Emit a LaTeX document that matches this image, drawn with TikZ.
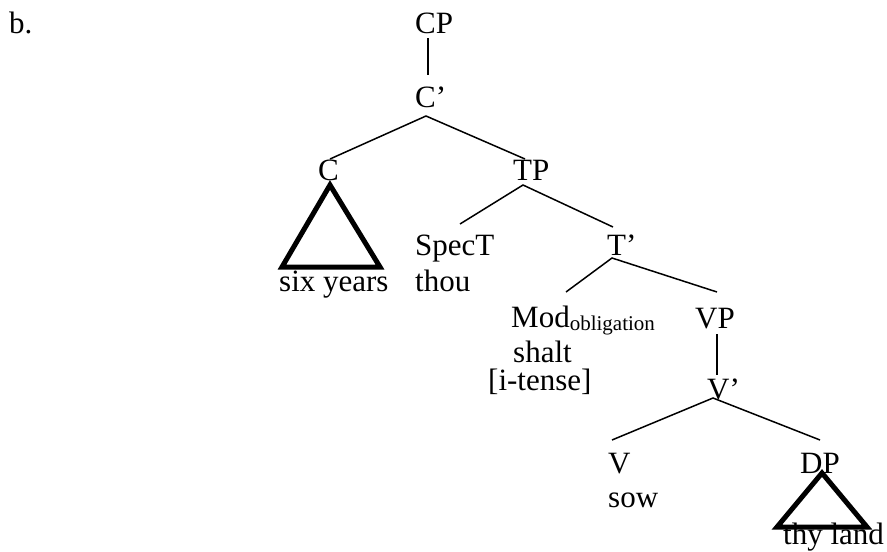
\documentclass[tikz,border=0pt]{standalone}
\usepackage{fontspec}
\setmainfont{Liberation Serif}
\begin{document}
\begin{tikzpicture}[x=1pt,y=-1pt,
  lbl/.style={anchor=base west,inner sep=0pt,font=\fontsize{31}{37}\selectfont},
  branch/.style={line width=1.5pt},
  tri/.style={line width=5pt,line join=miter}]
\useasboundingbox (0,0) rectangle (887,552);
% labels
\node[lbl] (b) at (9,33) {b.};
\node[lbl] (cp) at (415,33) {CP};
\node[lbl] (cbar) at (415,107) {C’};
\node[lbl] (c) at (318,180) {C};
\node[lbl] (tp) at (513,180) {TP};
\node[lbl] (spect) at (415,255) {SpecT};
\node[lbl] (tbar) at (607,255) {T’};
\node[lbl] (sixyears) at (279,291) {six years};
\node[lbl] (thou) at (415,291) {thou};
\node[lbl] (mod) at (511,327) {Mod\raisebox{-3pt}{\fontsize{21}{25}\selectfont obligation}};
\node[lbl] (vp) at (695,328) {VP};
\node[lbl] (shalt) at (513,362) {shalt};
\node[lbl] (itense) at (488,390) {[i-tense]};
\node[lbl] (vbar) at (707,399) {V’};
\node[lbl] (v) at (608,473) {V};
\node[lbl] (dp) at (800,473) {DP};
\node[lbl] (sow) at (608,507) {sow};
\node[lbl] (thyland) at (783,544) {thy land};
% branch points
\coordinate (cp-d) at (428,38);
\coordinate (cbar-u) at (428,75);
\coordinate (cbar-d) at (426,116);
\coordinate (c-u) at (330,159);
\coordinate (tp-u) at (525,159);
\coordinate (tp-d) at (523,185);
\coordinate (spect-u) at (460,224);
\coordinate (tbar-u) at (613,227);
\coordinate (tbar-d) at (612,258);
\coordinate (mod-u) at (566,292);
\coordinate (vp-u) at (717,292);
\coordinate (vp-d) at (717,334);
\coordinate (vbar-u) at (717,375);
\coordinate (vbar-d) at (713,398);
\coordinate (v-u) at (612,440);
\coordinate (dp-u) at (820,440);
% triangles
\coordinate (c-apex) at (330,185);
\coordinate (c-bl) at (282,267);
\coordinate (c-br) at (380,267);
\coordinate (dp-apex) at (822,473);
\coordinate (dp-bl) at (777,527);
\coordinate (dp-br) at (867,527);
% branches
\draw[branch] (cp-d) -- (cbar-u);
\draw[branch] (c-u) -- (cbar-d) -- (tp-u);
\draw[branch] (spect-u) -- (tp-d) -- (tbar-u);
\draw[branch] (mod-u) -- (tbar-d) -- (vp-u);
\draw[branch] (vp-d) -- (vbar-u);
\draw[branch] (v-u) -- (vbar-d) -- (dp-u);
\draw[tri] (c-apex) -- (c-bl) -- (c-br) -- cycle;
\draw[tri] (dp-apex) -- (dp-bl) -- (dp-br) -- cycle;
\end{tikzpicture}
\end{document}
